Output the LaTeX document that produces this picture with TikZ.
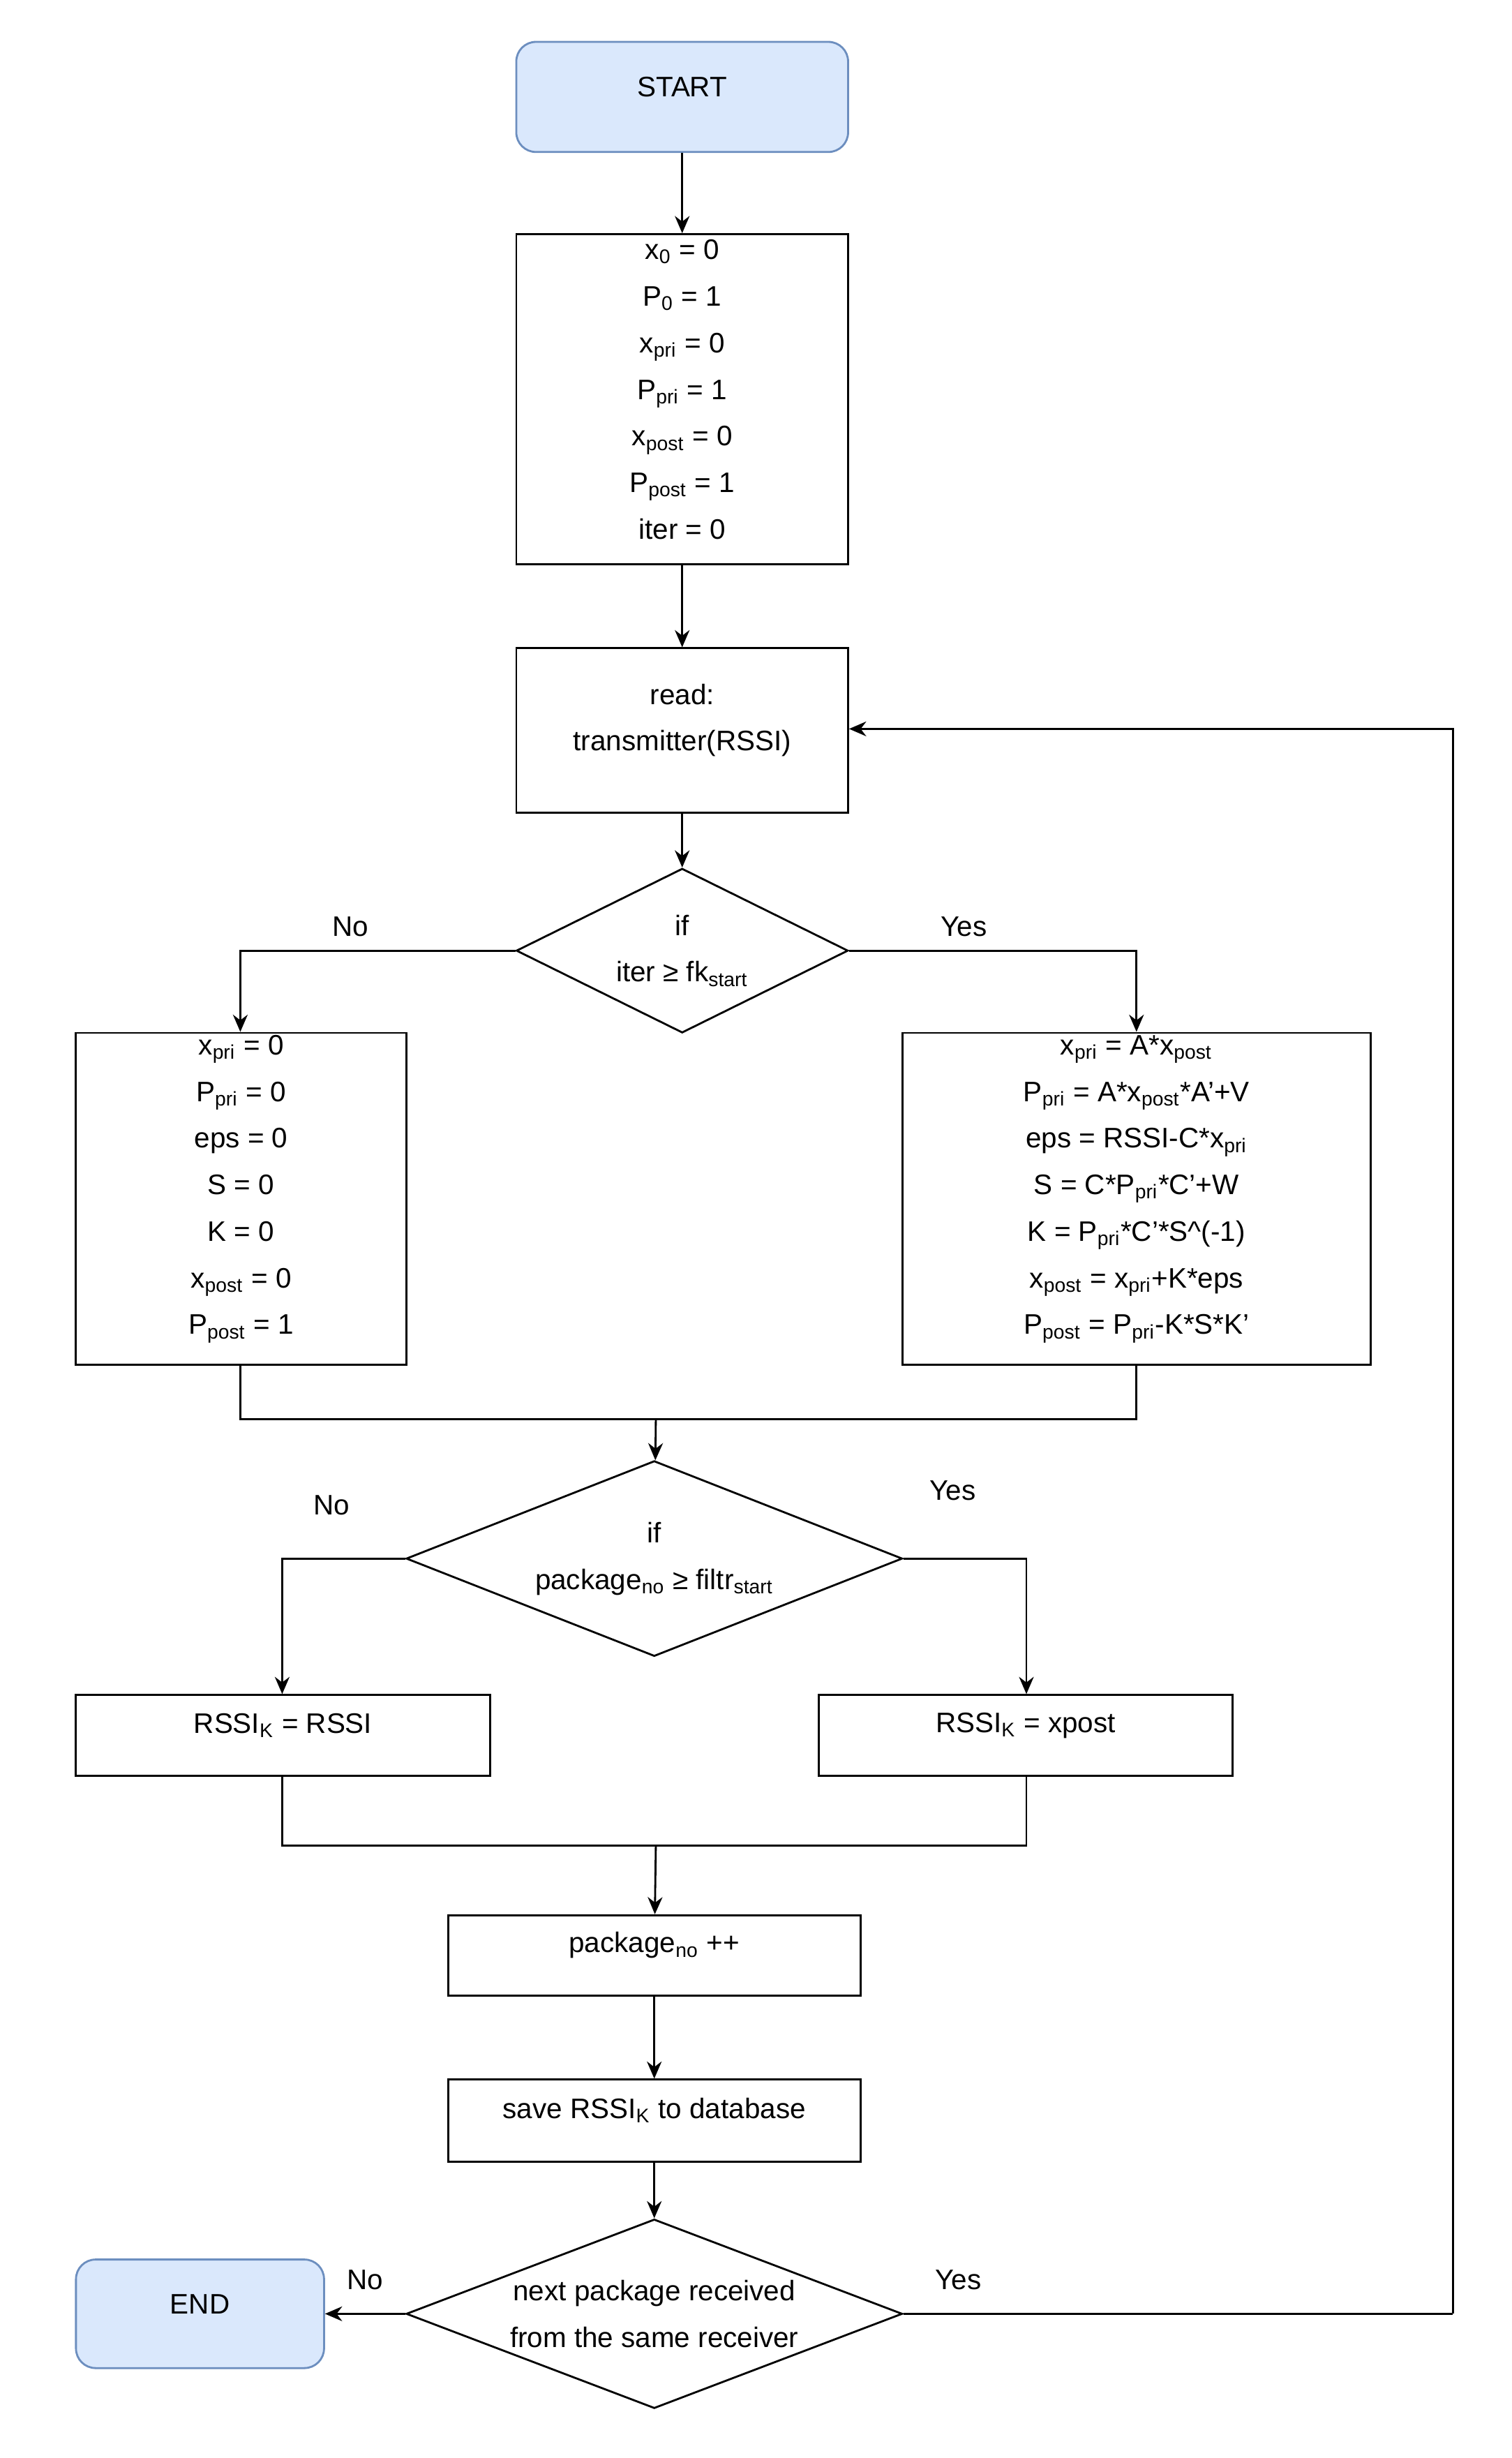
\documentclass[tikz,border=0pt]{standalone}
\usepackage{fontspec}
\setmainfont{Liberation Sans}
\usetikzlibrary{arrows.meta,shapes.geometric,fit}
\definecolor{termfill}{HTML}{DAE8FC}
\definecolor{termdraw}{HTML}{6C8EBF}
\tikzset{
  every node/.style={font=\fontsize{11.5}{19}\selectfont},
  box/.style={draw, thick, inner sep=0pt, align=center},
  term/.style={box, rounded corners=8pt, fill=termfill, draw=termdraw},
  dia/.style={draw, thick, diamond, inner sep=0pt},
  txt/.style={inner sep=0pt, align=center},
  line/.style={draw, thick, -{Stealth[length=7pt,width=6pt]}},
  seg/.style={draw, thick},
}
\newcommand{\sub}[1]{\textsubscript{#1}}
\begin{document}
\begin{tikzpicture}[x=0.02222cm, y=-0.02222cm]
\useasboundingbox (0,0) rectangle (975,1585);

\node[term, fit={(333,27) (547,98)}] (start) {START};
\node[box, fit={(333,151) (547,364)}] (init) {x\sub{0} = 0\\P\sub{0} = 1\\x\sub{pri} = 0\\P\sub{pri} = 1\\x\sub{post} = 0\\P\sub{post} = 1\\iter = 0};
\node[box, fit={(333,418) (547,524)}] (read) {read:\\transmitter(RSSI)};

\node[dia, minimum width=4.755cm, minimum height=2.355cm] (d1) at (440,613) {};
\node[txt] (t1) at (440,613) {if\\iter ≥ fk\sub{start}};

\node[box, fit={(49,666) (262,880)}] (left1) {x\sub{pri} = 0\\P\sub{pri} = 0\\eps = 0\\S = 0\\K = 0\\x\sub{post} = 0\\P\sub{post} = 1};
\node[box, fit={(582,666) (884,880)}] (right1) {x\sub{pri} = A*x\sub{post}\\P\sub{pri} = A*x\sub{post}*A'+V\\eps = RSSI-C*x\sub{pri}\\S = C*P\sub{pri}*C'+W\\K = P\sub{pri}*C'*S\^{}(-1)\\x\sub{post} = x\sub{pri}+K*eps\\P\sub{post} = P\sub{pri}-K*S*K'};

\node[dia, minimum width=7.11cm, minimum height=2.8cm] (d2) at (422,1005) {};
\node[txt] (t2) at (422,1005) {if\\package\sub{no} ≥ filtr\sub{start}};

\node[box, fit={(49,1093) (316,1145)}] (left2) {RSSI\sub{K} = RSSI};
\node[box, fit={(528,1093) (795,1145)}] (right2) {RSSI\sub{K} = xpost};

\node[box, fit={(289,1235) (555,1287)}] (pkg) {package\sub{no} ++};
\node[box, fit={(289,1341) (555,1394)}] (save) {save RSSI\sub{K} to database};

\node[dia, minimum width=7.11cm, minimum height=2.71cm] (d3) at (422,1492) {};
\node[txt] (t3) at (422,1492) {next package received\\from the same receiver};
\node[term, fit={(49,1457) (209,1527)}] (end) {END};

\coordinate (m1) at (423,915);
\coordinate (m2) at (423,1190);
\coordinate (loopR) at (937,1492);
\coordinate (loopT) at (937,470);

\path[line] (start) -- (init);
\path[line] (init) -- (read);
\path[line] (read) -- (d1);
\path[line] (d1.west) -| (left1.north -| 155,0) node[pos=0.3, above=2pt] (no1) {No};
\path[line] (d1.east) -| (right1.north -| 733,0) node[pos=0.2, above=2pt] (yes1) {Yes};
\path[seg] (left1.south -| 155,0) |- (m1);
\path[seg] (right1.south -| 733,0) |- (m1);
\path[line] (m1) -- (d2);
\path[line] (d2.west) -| (left2.north -| 182,0) node[pos=0.3, above=14pt] (no2) {No};
\path[line] (d2.east) -| (right2.north -| 662,0) node[pos=0.2, above=20pt] (yes2) {Yes};
\path[seg] (left2.south -| 182,0) |- (m2);
\path[seg] (right2.south -| 662,0) |- (m2);
\path[line] (m2) -- (pkg);
\path[line] (pkg) -- (save);
\path[line] (save) -- (d3);
\path[line] (d3.west) -- (end.east) node[midway, above=6pt] (no3) {No};
\path[seg] (d3.east) -- (loopR) node[pos=0.1, above=6pt] (yes3) {Yes};
\path[line] (loopR) -- (loopT) -- (read.east |- loopT);
\end{tikzpicture}
\end{document}
